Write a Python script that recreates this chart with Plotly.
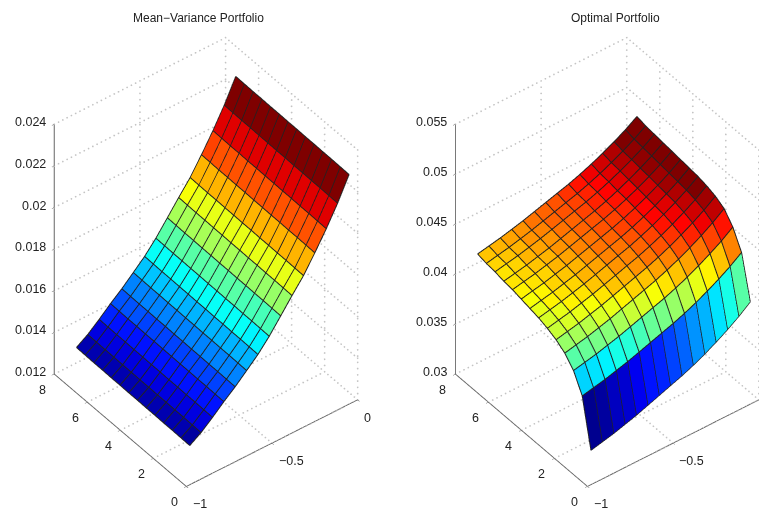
import plotly.graph_objects as go

x_cells = [-0.98, -0.914, -0.847, -0.781, -0.715, -0.648, -0.582, -0.516, -0.449, -0.383, -0.316, -0.25, -0.183, -0.117, -0.05]
y_cells = [0, 0.528, 1.056, 1.584, 2.112, 2.64, 3.168, 3.696, 4.224, 4.752, 5.28, 5.808, 6.336, 6.864]

left_z_by_x = [.01390, .01425, .01470, .01518, .01562, .01612, .01662, .01722, .01792, .01862, .01930, .02012, .02100, .02195, .02305]
left_z_rise_by_y = [-.00004, -.00003, -.00002, -.00002, -.00001, -.00001, 0, 0, .00001, .00001, .00002, .00002, .00003, .00004]
left_color_top = .0228

right_z = [
 [.03340,.03367,.03394,.03428,.03462,.03503,.03544,.03585,.03626,.03673,.03728,.03789,.03857,.03932,.04020],
 [.03810,.03835,.03860,.03892,.03923,.03961,.03999,.04037,.04075,.04119,.04169,.04226,.04289,.04358,.04440],
 [.03990,.04015,.04040,.04072,.04103,.04141,.04179,.04217,.04255,.04299,.04349,.04406,.04469,.04538,.04620],
 [.04090,.04116,.04141,.04173,.04205,.04244,.04282,.04320,.04359,.04404,.04455,.04512,.04576,.04647,.04730],
 [.04150,.04175,.04200,.04232,.04263,.04301,.04339,.04377,.04415,.04459,.04509,.04566,.04629,.04698,.04780],
 [.04190,.04215,.04240,.04271,.04302,.04339,.04376,.04413,.04450,.04494,.04543,.04599,.04661,.04729,.04810],
 [.04220,.04244,.04269,.04299,.04330,.04366,.04403,.04440,.04476,.04519,.04568,.04623,.04684,.04751,.04830],
 [.04240,.04264,.04288,.04318,.04348,.04384,.04420,.04456,.04492,.04534,.04582,.04636,.04696,.04762,.04840],
 [.04260,.04284,.04307,.04337,.04366,.04402,.04437,.04472,.04508,.04549,.04596,.04649,.04708,.04773,.04850],
 [.04280,.04303,.04326,.04355,.04384,.04419,.04454,.04489,.04524,.04564,.04611,.04663,.04721,.04785,.04860],
 [.04290,.04313,.04336,.04365,.04394,.04429,.04464,.04499,.04534,.04574,.04621,.04673,.04731,.04795,.04870],
 [.04310,.04333,.04356,.04384,.04413,.04447,.04481,.04515,.04549,.04589,.04635,.04686,.04743,.04806,.04880],
 [.04320,.04343,.04366,.04394,.04423,.04457,.04491,.04525,.04559,.04599,.04645,.04696,.04753,.04816,.04890],
 [.04340,.04363,.04386,.04414,.04443,.04477,.04511,.04545,.04579,.04619,.04665,.04716,.04773,.04836,.04910],
]
right_color_top = .0482

x_ticks = [-1, -0.5, 0]
x_labels = ["\u22121", "\u22120.5", "0"]
y_ticks = [0, 2, 4, 6, 8]
y_labels = ["0", "2", "4", "6", "8"]
left_z_ticks = [.012, .014, .016, .018, .02, .022, .024]
left_z_labels = ["0.012", "0.014", "0.016", "0.018", "0.02", "0.022", "0.024"]
right_z_ticks = [.03, .035, .04, .045, .05, .055]
right_z_labels = ["0.03", "0.035", "0.04", "0.045", "0.05", "0.055"]
titles = ["Mean\u2212Variance Portfolio", "Optimal Portfolio"]

left_z = [[zx + dy for zx in left_z_by_x] for dy in left_z_rise_by_y]

FONT = "Liberation Sans"
EYE_DIR = (-.461, -.598, .656)
RIGHT = (.792, -.611, 0)
UP = (.401, .520, .755)
R = 1.17
ASPECT = 0.845
S = 258.0
DOTS = 40


def jet(t):
    t = max(0.0, min(1.0, t))
    t = round(t * 63) / 63
    def f(v):
        return max(0.0, min(1.0, 1.5 - abs(4 * v)))
    r, g, b = f(t - .75), f(t - .5), f(t - .25)
    return "rgb(%d,%d,%d)" % (r * 255, g * 255, b * 255)


def mesh(z, scene, hi):
    ny, nx = len(y_cells), len(x_cells)
    lo = min(v for row in z for v in row)
    X, Y, Z, I, J, K, C = [], [], [], [], [], [], []
    for j in range(ny):
        for i in range(nx):
            X.append(x_cells[i]); Y.append(y_cells[j]); Z.append(z[j][i])
    for j in range(ny - 1):
        for i in range(nx - 1):
            a = j * nx + i
            b, c, d = a + 1, a + nx + 1, a + nx
            col = jet((z[j][i + 1] - lo) / (hi - lo))
            I += [a, a]; J += [b, c]; K += [c, d]; C += [col, col]
    return go.Mesh3d(x=X, y=Y, z=Z, i=I, j=J, k=K, facecolor=C, flatshading=True,
                     lighting=dict(ambient=1, diffuse=0, specular=0, roughness=1, fresnel=0),
                     hoverinfo="skip", showscale=False, scene=scene)


def mesh_lines(z, scene, lift):
    X, Y, Z = [], [], []
    for j in range(len(y_cells)):
        X += x_cells + [None]
        Y += [y_cells[j]] * len(x_cells) + [None]
        Z += [v + lift for v in z[j]] + [None]
    for i in range(len(x_cells)):
        X += [x_cells[i]] * len(y_cells) + [None]
        Y += y_cells + [None]
        Z += [z[j][i] + lift for j in range(len(y_cells))] + [None]
    return go.Scatter3d(x=X, y=Y, z=Z, mode="lines", line=dict(color="#222222", width=2),
                        hoverinfo="skip", showlegend=False, scene=scene)


def grid_dots(zticks, scene):
    zlo, zhi = zticks[0], zticks[-1]
    X, Y, Z = [], [], []
    def seg(a, b, n):
        for q in range(n + 1):
            s = q / n
            X.append(a[0] + (b[0] - a[0]) * s)
            Y.append(a[1] + (b[1] - a[1]) * s)
            Z.append(a[2] + (b[2] - a[2]) * s)
    for t in x_ticks[1:]:
        seg((t, 0, zlo), (t, 8, zlo), DOTS)
        seg((t, 8, zlo), (t, 8, zhi), DOTS)
    for t in y_ticks[:-1]:
        seg((-1, t, zlo), (0, t, zlo), DOTS)
        seg((0, t, zlo), (0, t, zhi), DOTS)
    seg((0, 8, zlo), (0, 8, zhi), DOTS)
    for t in zticks:
        seg((-1, 8, t), (0, 8, t), DOTS)
        seg((0, 8, t), (0, 0, t), DOTS)
    return go.Scatter3d(x=X, y=Y, z=Z, mode="markers",
                        marker=dict(color="#c4c4c4", size=1, line=dict(width=0)),
                        hoverinfo="skip", showlegend=False, scene=scene)


def tick_notes(zticks, zlabels):
    font = dict(family=FONT, size=12.5, color="#222")
    out = []
    for t, s in zip(zticks, zlabels):
        out.append(dict(x=-1, y=8, z=t, text=s, showarrow=False, xanchor="right", yanchor="middle",
                        xshift=-6, yshift=2, font=font))
    for t, s in zip(y_ticks, y_labels):
        out.append(dict(x=-1, y=t, z=zticks[0], text=s, showarrow=False, xanchor="center", yanchor="middle",
                        xshift=-12, yshift=-16, font=font))
    for t, s in zip(x_ticks, x_labels):
        out.append(dict(x=t, y=0, z=zticks[0], text=s, showarrow=False, xanchor="left", yanchor="middle",
                        xshift=5, yshift=-18, font=font))
    return out


def scene_cfg(dom, zticks, zlabels, dx, dy):
    cx = [-dx / S * RIGHT[n] + dy / S * UP[n] for n in range(3)]
    ax = dict(showbackground=False, showgrid=False, zeroline=False, showspikes=False, showline=True,
              linecolor="#666666", linewidth=2, ticks="outside", ticklen=3, tickcolor="#666666",
              showticklabels=False, title=dict(text=""))
    return dict(
        domain=dict(x=dom, y=[0, 1]),
        xaxis=dict(ax, range=[-1, 0], tickvals=x_ticks),
        yaxis=dict(ax, range=[0, 8], tickvals=y_ticks),
        zaxis=dict(ax, range=[zticks[0], zticks[-1]], tickvals=zticks),
        aspectmode="manual", aspectratio=dict(x=ASPECT, y=ASPECT, z=1.53 * ASPECT),
        annotations=tick_notes(zticks, zlabels),
        camera=dict(projection=dict(type="orthographic"), up=dict(x=0, y=0, z=1),
                    center=dict(x=cx[0], y=cx[1], z=cx[2]),
                    eye=dict(x=cx[0] + EYE_DIR[0] * R, y=cx[1] + EYE_DIR[1] * R, z=cx[2] + EYE_DIR[2] * R)),
    )


fig = go.Figure()
fig.add_trace(grid_dots(left_z_ticks, "scene"))
fig.add_trace(mesh(left_z, "scene", left_color_top))
fig.add_trace(mesh_lines(left_z, "scene", 0.00002))
fig.add_trace(grid_dots(right_z_ticks, "scene2"))
fig.add_trace(mesh(right_z, "scene2", right_color_top))
fig.add_trace(mesh_lines(right_z, "scene2", 0.00004))

fig.update_layout(
    width=767, height=512, margin=dict(l=0, r=0, t=0, b=0), autosize=False,
    paper_bgcolor="white", showlegend=False,
    scene=scene_cfg([0, .5], left_z_ticks, left_z_labels, 6, -2),
    scene2=scene_cfg([.5, 1], right_z_ticks, right_z_labels, 23.3, -2),
    annotations=[
        dict(text=titles[0], x=190 / 767, y=502 / 512, xref="paper", yref="paper", showarrow=False,
             xanchor="center", yanchor="middle", font=dict(family=FONT, size=12, color="#222")),
        dict(text=titles[1], x=607 / 767, y=502 / 512, xref="paper", yref="paper", showarrow=False,
             xanchor="center", yanchor="middle", font=dict(family=FONT, size=12, color="#222")),
    ],
)
fig.write_html("out.html")
